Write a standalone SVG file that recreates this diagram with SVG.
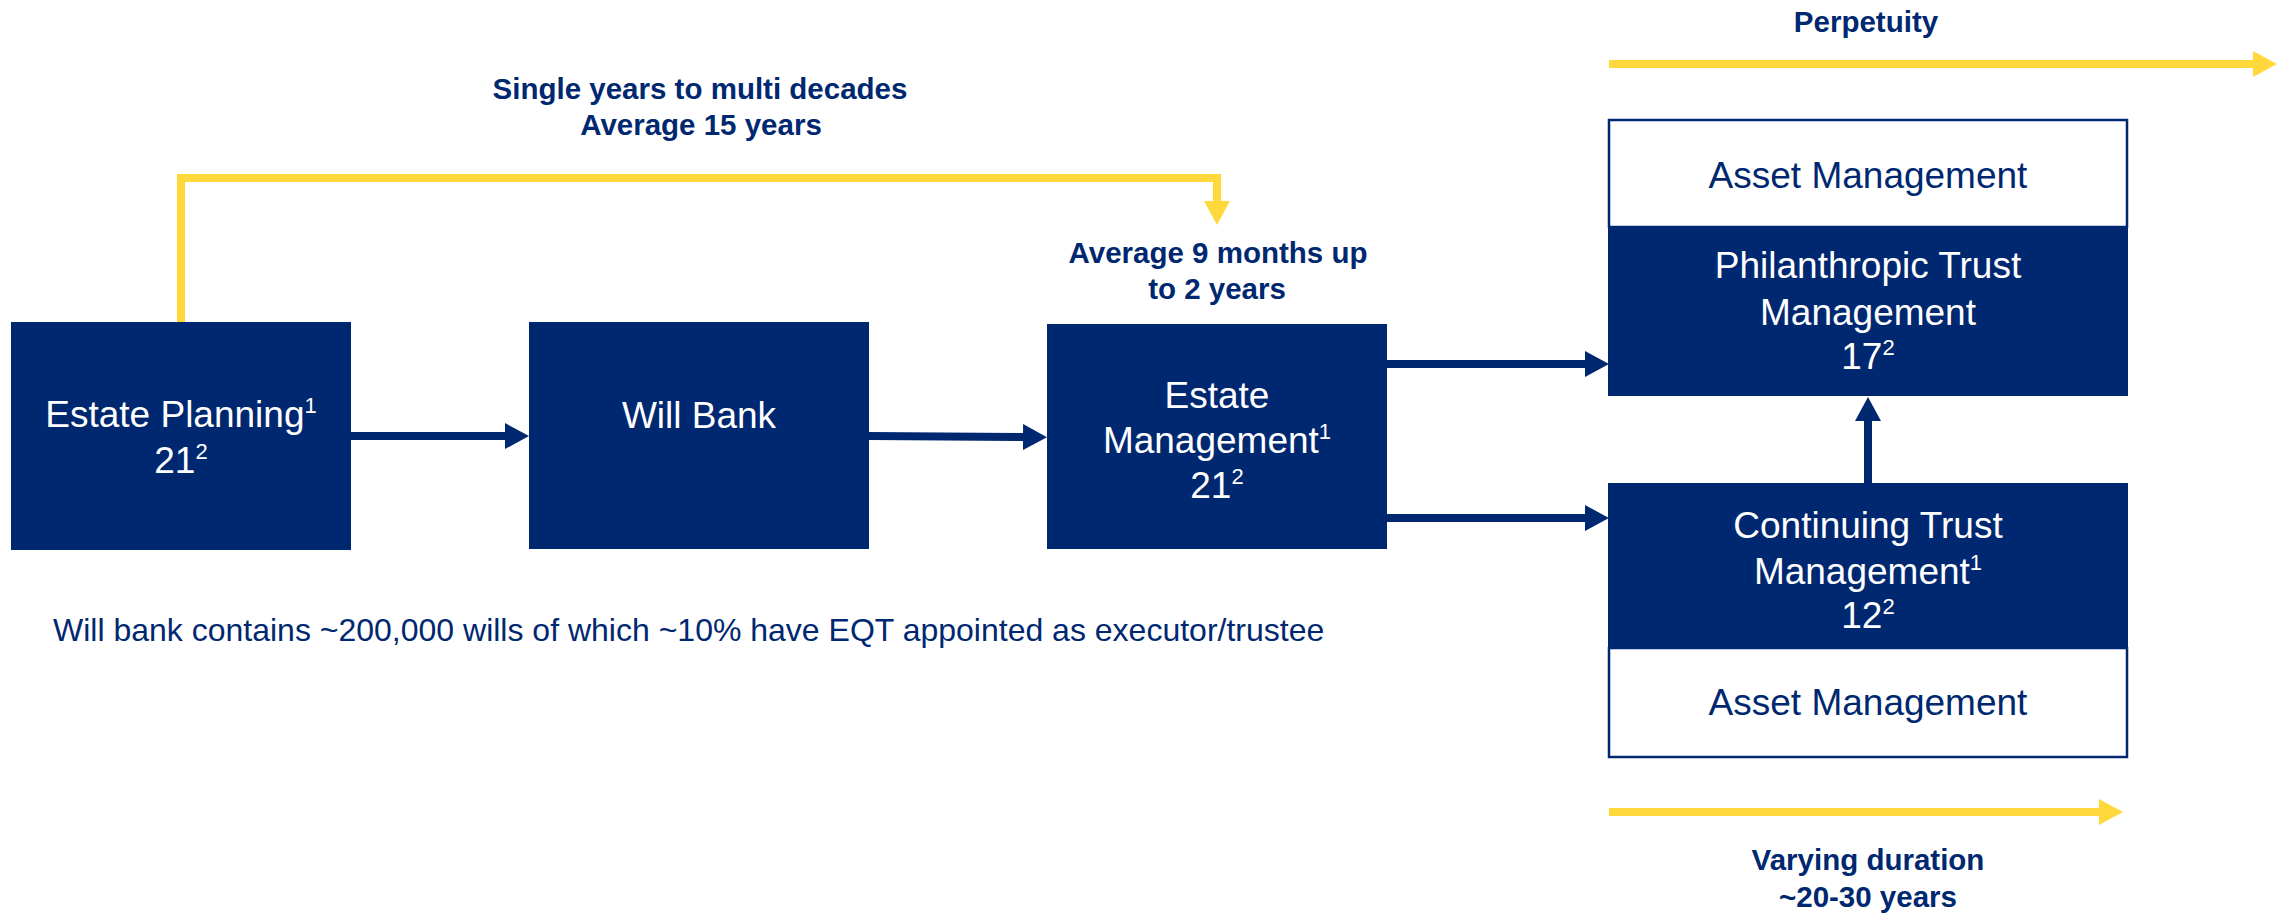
<svg xmlns="http://www.w3.org/2000/svg" width="2292" height="913" viewBox="0 0 2292 913">
<style>
.box{fill:#002870}
.wbox{fill:#ffffff;stroke:#002870;stroke-width:2.5}
.t{font-family:"Liberation Sans",Arial,sans-serif;font-size:37px;fill:#ffffff;text-anchor:middle}
.tn{font-family:"Liberation Sans",Arial,sans-serif;font-size:37px;fill:#002870;text-anchor:middle}
.lb{font-family:"Liberation Sans",Arial,sans-serif;font-size:29.5px;font-weight:bold;fill:#002870;text-anchor:middle}
.fn{font-family:"Liberation Sans",Arial,sans-serif;font-size:32px;fill:#002870}
.nv{fill:none;stroke:#002870;stroke-width:8}
.yl{fill:none;stroke:#FFD93B;stroke-width:8}
</style>
<defs>
<marker id="an" markerUnits="userSpaceOnUse" viewBox="0 0 24 26" markerWidth="24" markerHeight="26" refX="1" refY="13" orient="auto"><path d="M0,0 L24,13 L0,26 Z" fill="#002870"/></marker>
<marker id="ay" markerUnits="userSpaceOnUse" viewBox="0 0 24 26" markerWidth="24" markerHeight="26" refX="1" refY="13" orient="auto"><path d="M0,0 L24,13 L0,26 Z" fill="#FFD93B"/></marker>
</defs>
<rect width="2292" height="913" fill="#ffffff"/>
<g id="connectors">
<path class="yl" d="M181,322 V178 H1217 V202" marker-end="url(#ay)"/>
<path class="yl" d="M1609,64 H2254" marker-end="url(#ay)"/>
<path class="yl" d="M1609,812 H2100" marker-end="url(#ay)"/>
<path class="nv" d="M351,436 H506" marker-end="url(#an)"/>
<path class="nv" d="M869,436 L1024,437" marker-end="url(#an)"/>
<path class="nv" d="M1387,364 H1586" marker-end="url(#an)"/>
<path class="nv" d="M1387,518 H1586" marker-end="url(#an)"/>
<path class="nv" d="M1868,483 V420" marker-end="url(#an)"/>
</g>
<g id="estate-planning">
<rect class="box" x="11" y="322" width="340" height="228"/>
<text class="t" x="181" y="427">Estate Planning<tspan font-size="22" dy="-14">1</tspan></text>
<text class="t" x="181" y="473">21<tspan font-size="22" dy="-14">2</tspan></text>
</g>
<g id="will-bank">
<rect class="box" x="529" y="322" width="340" height="227"/>
<text class="t" x="699" y="428">Will Bank</text>
</g>
<g id="estate-management">
<rect class="box" x="1047" y="324" width="340" height="225"/>
<text class="t" x="1217" y="408">Estate</text>
<text class="t" x="1217" y="453">Management<tspan font-size="22" dy="-14">1</tspan></text>
<text class="t" x="1217" y="498">21<tspan font-size="22" dy="-14">2</tspan></text>
</g>
<g id="philanthropic-trust">
<rect class="wbox" x="1609" y="120" width="518" height="107"/>
<text class="tn" x="1868" y="188">Asset Management</text>
<rect class="box" x="1608" y="227" width="520" height="169"/>
<text class="t" x="1868" y="278">Philanthropic Trust</text>
<text class="t" x="1868" y="325">Management</text>
<text class="t" x="1868" y="369">17<tspan font-size="22" dy="-14">2</tspan></text>
</g>
<g id="continuing-trust">
<rect class="box" x="1608" y="483" width="520" height="165"/>
<text class="t" x="1868" y="538">Continuing Trust</text>
<text class="t" x="1868" y="584">Management<tspan font-size="22" dy="-14">1</tspan></text>
<text class="t" x="1868" y="628">12<tspan font-size="22" dy="-14">2</tspan></text>
<rect class="wbox" x="1609" y="648" width="518" height="109"/>
<text class="tn" x="1868" y="715">Asset Management</text>
</g>
<g id="labels">
<text class="lb" x="700" y="99">Single years to multi decades</text>
<text class="lb" x="701" y="135">Average 15 years</text>
<text class="lb" x="1218" y="263">Average 9 months up</text>
<text class="lb" x="1217" y="299">to 2 years</text>
<text class="lb" x="1866" y="32">Perpetuity</text>
<text class="lb" x="1868" y="870">Varying duration</text>
<text class="lb" x="1868" y="907">~20-30 years</text>
<text class="fn" x="53" y="641">Will bank contains ~200,000 wills of which ~10% have EQT appointed as executor/trustee</text>
</g>
</svg>
